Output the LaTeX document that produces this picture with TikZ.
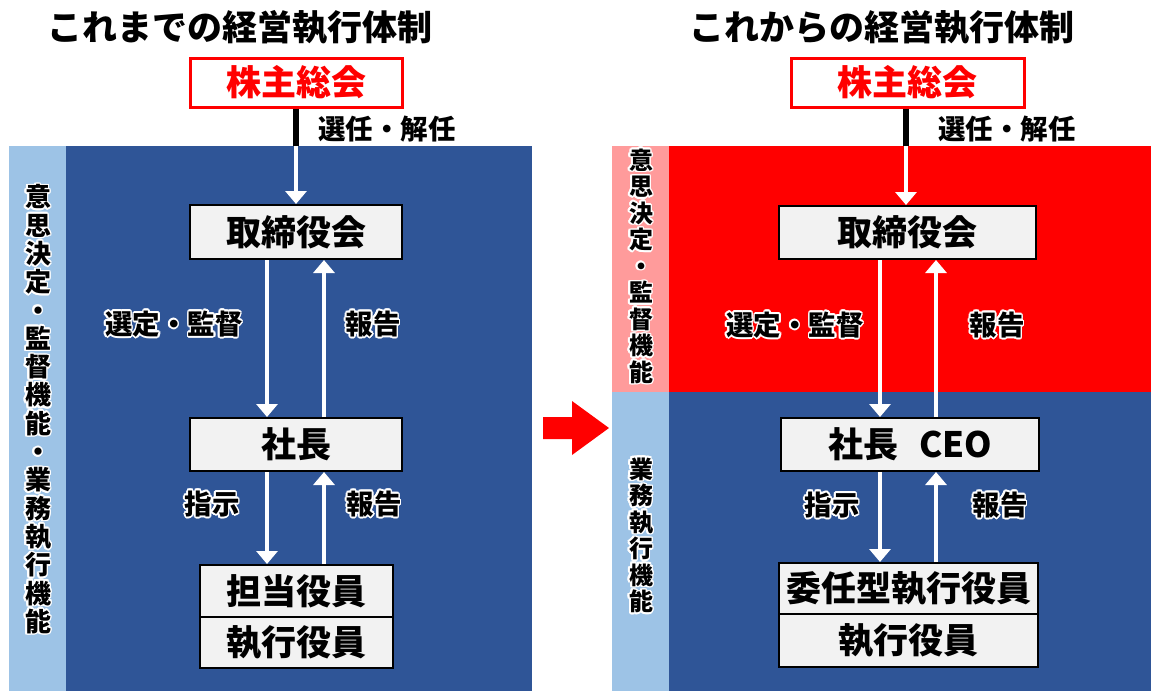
\documentclass[tikz,border=0pt]{standalone}
\usepackage{fontspec}
\setmainfont{Noto Sans CJK JP}
\usepackage{contour}
\contourlength{1.6pt}
\usetikzlibrary{arrows.meta,calc}
\definecolor{dblue}{HTML}{2F5597}
\definecolor{lblue}{HTML}{9DC3E6}
\definecolor{pinkstrip}{HTML}{FF9B9B}
\definecolor{boxgray}{HTML}{F2F2F2}
\newcommand\cw[1]{\contour{white}{#1}}
\tikzset{
  box/.style={draw=black, line width=2pt, fill=boxgray, inner sep=0pt,
    font=\fontsize{35}{35}\bfseries\selectfont, text height=30.8pt, text depth=4.2pt},
  redbox/.style={draw=red, line width=3pt, fill=white, inner sep=0pt, text=red,
    font=\fontsize{35}{35}\bfseries\selectfont, text height=30.8pt, text depth=4.2pt,
    minimum height=49pt},
  lab/.style={inner sep=0pt, font=\fontsize{27.5}{27.5}\bfseries\selectfont,
    text height=24.2pt, text depth=3.3pt},
  ttl/.style={inner sep=0pt, font=\fontsize{35}{35}\bfseries\selectfont,
    text height=30.8pt, text depth=4.2pt},
  vlab/.style={inner sep=0pt, align=center},
  warrow/.style={draw=white, line width=4pt, -{Triangle[width=21pt,length=13pt]}},
  bline/.style={draw=black, line width=6.5pt}
}
\begin{document}
\begin{tikzpicture}[x=1pt,y=-1pt]
\useasboundingbox (0,0) rectangle (1151,691);
% ---------- backgrounds ----------
\fill[lblue] (9,146) rectangle (66,691);
\fill[dblue] (66,146) rectangle (532,691);
\fill[pinkstrip] (612,146) rectangle (669,392);
\fill[red] (669,146) rectangle (1151,392);
\fill[lblue] (612,392) rectangle (669,691);
\fill[dblue] (669,392) rectangle (1151,691);
% red transition arrow
\fill[red] (543,417) -- (572,417) -- (572,401) -- (609,428) -- (572,455) -- (572,439) -- (543,439) -- cycle;
% ---------- titles ----------
\node[ttl] (t1) at (240,27) {これまでの経営執行体制};
\node[ttl] (t2) at (882,27) {これからの経営執行体制};
% ---------- left panel ----------
\node[redbox, minimum width=212pt] (k1) at (296,82.5) {株主総会};
\node[box, minimum width=212pt, minimum height=54pt] (b1) at (296,232) {取締役会};
\node[box, minimum width=212pt, minimum height=53pt] (s1) at (296,444.5) {社長};
\node[box, minimum width=193pt, minimum height=52pt] (e1) at (296.5,591) {担当役員};
\node[box, minimum width=193pt, minimum height=51pt] (x1) at (296.5,642.5) {執行役員};
\coordinate (top1) at (296,146);
\coordinate (dl1) at (267,0);
\coordinate (ul1) at (324,0);
\draw[bline] (k1.south) -- (top1);
\draw[warrow] (top1) -- (b1.north);
\draw[warrow] (b1.south -| dl1) -- (s1.north -| dl1);
\draw[warrow] (s1.north -| ul1) -- (b1.south -| ul1);
\draw[warrow] (s1.south -| dl1) -- (e1.north -| dl1);
\draw[warrow] (e1.north -| ul1) -- (s1.south -| ul1);
\node[lab] (a1) at (387,129) {選任・解任};
\node[lab] (a2) at (174,324) {\cw{選定・監督}};
\node[lab] (a3) at (373,324) {\cw{報告}};
\node[lab] (a4) at (212,504) {\cw{指示}};
\node[lab] (a5) at (374,504) {\cw{報告}};
\node[vlab, font=\fontsize{26}{28.3}\bfseries\selectfont] (v1) at (38,410)
  {\cw{意}\\\cw{思}\\\cw{決}\\\cw{定}\\\cw{・}\\\cw{監}\\\cw{督}\\\cw{機}\\\cw{能}\\\cw{・}\\\cw{業}\\\cw{務}\\\cw{執}\\\cw{行}\\\cw{機}\\\cw{能}};
% ---------- right panel ----------
\node[redbox, minimum width=233pt] (k2) at (907.5,82.5) {株主総会};
\node[box, minimum width=257pt, minimum height=53pt] (b2) at (907.5,232.5) {取締役会};
\node[box, minimum width=258pt, minimum height=53pt] (s2) at (910,444.5) {社長\hspace{0.6em}CEO};
\node[box, minimum width=259pt, minimum height=51pt] (e2) at (908.5,588.5) {委任型執行役員};
\node[box, minimum width=259pt, minimum height=53pt] (x2) at (908.5,640.5) {執行役員};
\coordinate (top2) at (906,146);
\coordinate (dl2) at (880,0);
\coordinate (ul2) at (936,0);
\draw[bline] (k2.south -| top2) -- (top2);
\draw[warrow] (top2) -- (b2.north -| top2);
\draw[warrow] (b2.south -| dl2) -- (s2.north -| dl2);
\draw[warrow] (s2.north -| ul2) -- (b2.south -| ul2);
\draw[warrow] (s2.south -| dl2) -- (e2.north -| dl2);
\draw[warrow] (e2.north -| ul2) -- (s2.south -| ul2);
\node[lab] (c1) at (1007,129) {選任・解任};
\node[lab] (c2) at (795,325) {\cw{選定・監督}};
\node[lab] (c3) at (997,325) {\cw{報告}};
\node[lab] (c4) at (832,505) {\cw{指示}};
\node[lab] (c5) at (1000,505) {\cw{報告}};
\node[vlab, font=\fontsize{24}{26.5}\bfseries\selectfont] (v2) at (641,267)
  {\cw{意}\\\cw{思}\\\cw{決}\\\cw{定}\\\cw{・}\\\cw{監}\\\cw{督}\\\cw{機}\\\cw{能}};
\node[vlab, font=\fontsize{24}{26.5}\bfseries\selectfont] (v3) at (641,536)
  {\cw{業}\\\cw{務}\\\cw{執}\\\cw{行}\\\cw{機}\\\cw{能}};
\end{tikzpicture}
\end{document}
